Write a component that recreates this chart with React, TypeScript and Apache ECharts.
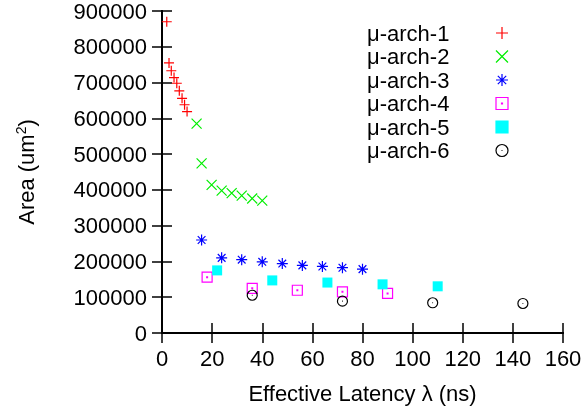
import React, { useEffect, useRef } from "react";
import * as echarts from "echarts";

const seriesNames = ["μ-arch-1", "μ-arch-2", "μ-arch-3", "μ-arch-4", "μ-arch-5", "μ-arch-6"];

const arch1 = [
  [1.9, 870000], [2.8, 755000], [3.7, 733000], [4.8, 714000], [5.9, 698000],
  [6.9, 677000], [8.0, 656000], [9.0, 638000], [10.0, 619000],
];
const arch2 = [
  [13.8, 585000], [15.8, 474000], [19.8, 414000], [23.8, 398000], [27.8, 391000],
  [31.8, 384000], [36.0, 376000], [40.0, 370000],
];
const arch3 = [
  [15.8, 260000], [23.8, 210000], [31.8, 205000], [40.0, 199000], [48.0, 194000],
  [56.0, 189000], [64.0, 186000], [72.0, 182500], [80.0, 178500],
];
const arch4 = [
  [18.0, 156000], [36.0, 125000], [54.0, 119500], [72.0, 115000], [90.0, 110500],
];
const arch5 = [
  [22.0, 175000], [44.0, 147000], [66.0, 141000], [88.0, 136000], [110.0, 130500],
];
const arch6 = [
  [36.0, 105500], [72.0, 89000], [108.0, 84500], [144.0, 82500],
];

const xMin = 0, xMax = 160, xStep = 20;
const yMin = 0, yMax = 900000, yStep = 100000;

const FONT = "'Liberation Sans', Arial, Helvetica, sans-serif";

const SYM_PLUS = "path://M0,5L10,5M5,0L5,10";
const SYM_CROSS = "path://M0,0L10,10M10,0L0,10";
const SYM_STAR = "path://M0,5L10,5M5,0L5,10M1.5,1.5L8.5,8.5M8.5,1.5L1.5,8.5";
const SYM_BOXDOT = "path://M0,0L10,0L10,10L0,10Z M4.6,4.6L5.4,4.6L5.4,5.4L4.6,5.4Z";
const SYM_CIRCDOT = "path://M0,5A5,5,0,1,1,10,5A5,5,0,1,1,0,5Z M4.6,5L5.4,5";

export default function App() {
  const ref = useRef<HTMLDivElement>(null);

  useEffect(() => {
    if (!ref.current) return;
    const chart = echarts.init(ref.current, undefined, { renderer: "svg" });

    const strokeSeries = (name: string, data: number[][], symbol: string, color: string, size: number, lw = 1.2) => ({
      name,
      type: "scatter",
      data,
      symbol,
      symbolSize: size,
      itemStyle: { color: "rgba(0,0,0,0)", borderColor: color, borderWidth: lw, opacity: 1 },
      emphasis: { disabled: true },
    });

    const axisCommon = {
      type: "value" as const,
      axisLine: { show: true, lineStyle: { color: "#000", width: 2 } },
      axisTick: { show: true, inside: true, length: 10, lineStyle: { color: "#000", width: 1.5 } },
      splitLine: { show: false },
    };

    chart.setOption({
      animation: false,
      grid: { left: 162, right: 25, top: 9, bottom: 76, containLabel: false },
      legend: {
        orient: "vertical",
        left: 367,
        top: 22,
        padding: 0,
        align: "right",
        itemGap: 1.5,
        itemWidth: 12,
        itemHeight: 12,
        selectedMode: false,
        itemStyle: { borderWidth: 1.2 },
        formatter: (n: string) => `{a|${n}}`,
        textStyle: {
          fontFamily: FONT,
          fontSize: 22,
          color: "#000",
          lineHeight: 22,
          rich: { a: { width: 124, align: "left", fontSize: 22, fontFamily: FONT, color: "#000", lineHeight: 22 } },
        },
        data: seriesNames,
      },
      xAxis: [
        {
          ...axisCommon,
          position: "bottom",
          min: xMin,
          max: xMax,
          interval: xStep,
          name: "Effective Latency λ (ns)",
          nameLocation: "middle",
          nameGap: 49,
          nameTextStyle: { fontFamily: FONT, fontSize: 22, color: "#000" },
          axisLabel: { fontFamily: FONT, fontSize: 22, color: "#000", margin: 14 },
        },
        {
          ...axisCommon,
          position: "top",
          min: xMin,
          max: xMax,
          interval: xStep,
          axisLabel: { show: false },
        },
      ],
      yAxis: [
        {
          ...axisCommon,
          position: "left",
          min: yMin,
          max: yMax,
          interval: yStep,
          name: "Area (um{sup|2})",
          nameLocation: "middle",
          nameGap: 124,
          nameTextStyle: {
            fontFamily: FONT,
            fontSize: 22,
            color: "#000",
            rich: { sup: { fontFamily: FONT, fontSize: 14, color: "#000", verticalAlign: "top", padding: [0, 0, 10, 0] } },
          },
          axisLabel: { fontFamily: FONT, fontSize: 22, color: "#000", margin: 15, formatter: (v: number) => String(v) },
        },
        {
          ...axisCommon,
          position: "right",
          min: yMin,
          max: yMax,
          interval: yStep,
          axisLabel: { show: false },
        },
      ],
      series: [
        strokeSeries(seriesNames[0], arch1, SYM_PLUS, "#ff0000", 10),
        strokeSeries(seriesNames[1], arch2, SYM_CROSS, "#00ee00", 10),
        strokeSeries(seriesNames[2], arch3, SYM_STAR, "#0000ff", 11),
        strokeSeries(seriesNames[3], arch4, SYM_BOXDOT, "#ff00ff", 10),
        {
          name: seriesNames[4],
          type: "scatter",
          data: arch5,
          symbol: "rect",
          symbolSize: 10,
          itemStyle: { color: "#00ffff", borderColor: "#00ffff", borderWidth: 0, opacity: 1 },
          emphasis: { disabled: true },
        },
        strokeSeries(seriesNames[5], arch6, SYM_CIRCDOT, "#000000", 10),
      ],
    });

    return () => chart.dispose();
  }, []);

  return <div ref={ref} style={{ position: "fixed", left: 0, top: 0, width: 588, height: 409 }} />;
}
